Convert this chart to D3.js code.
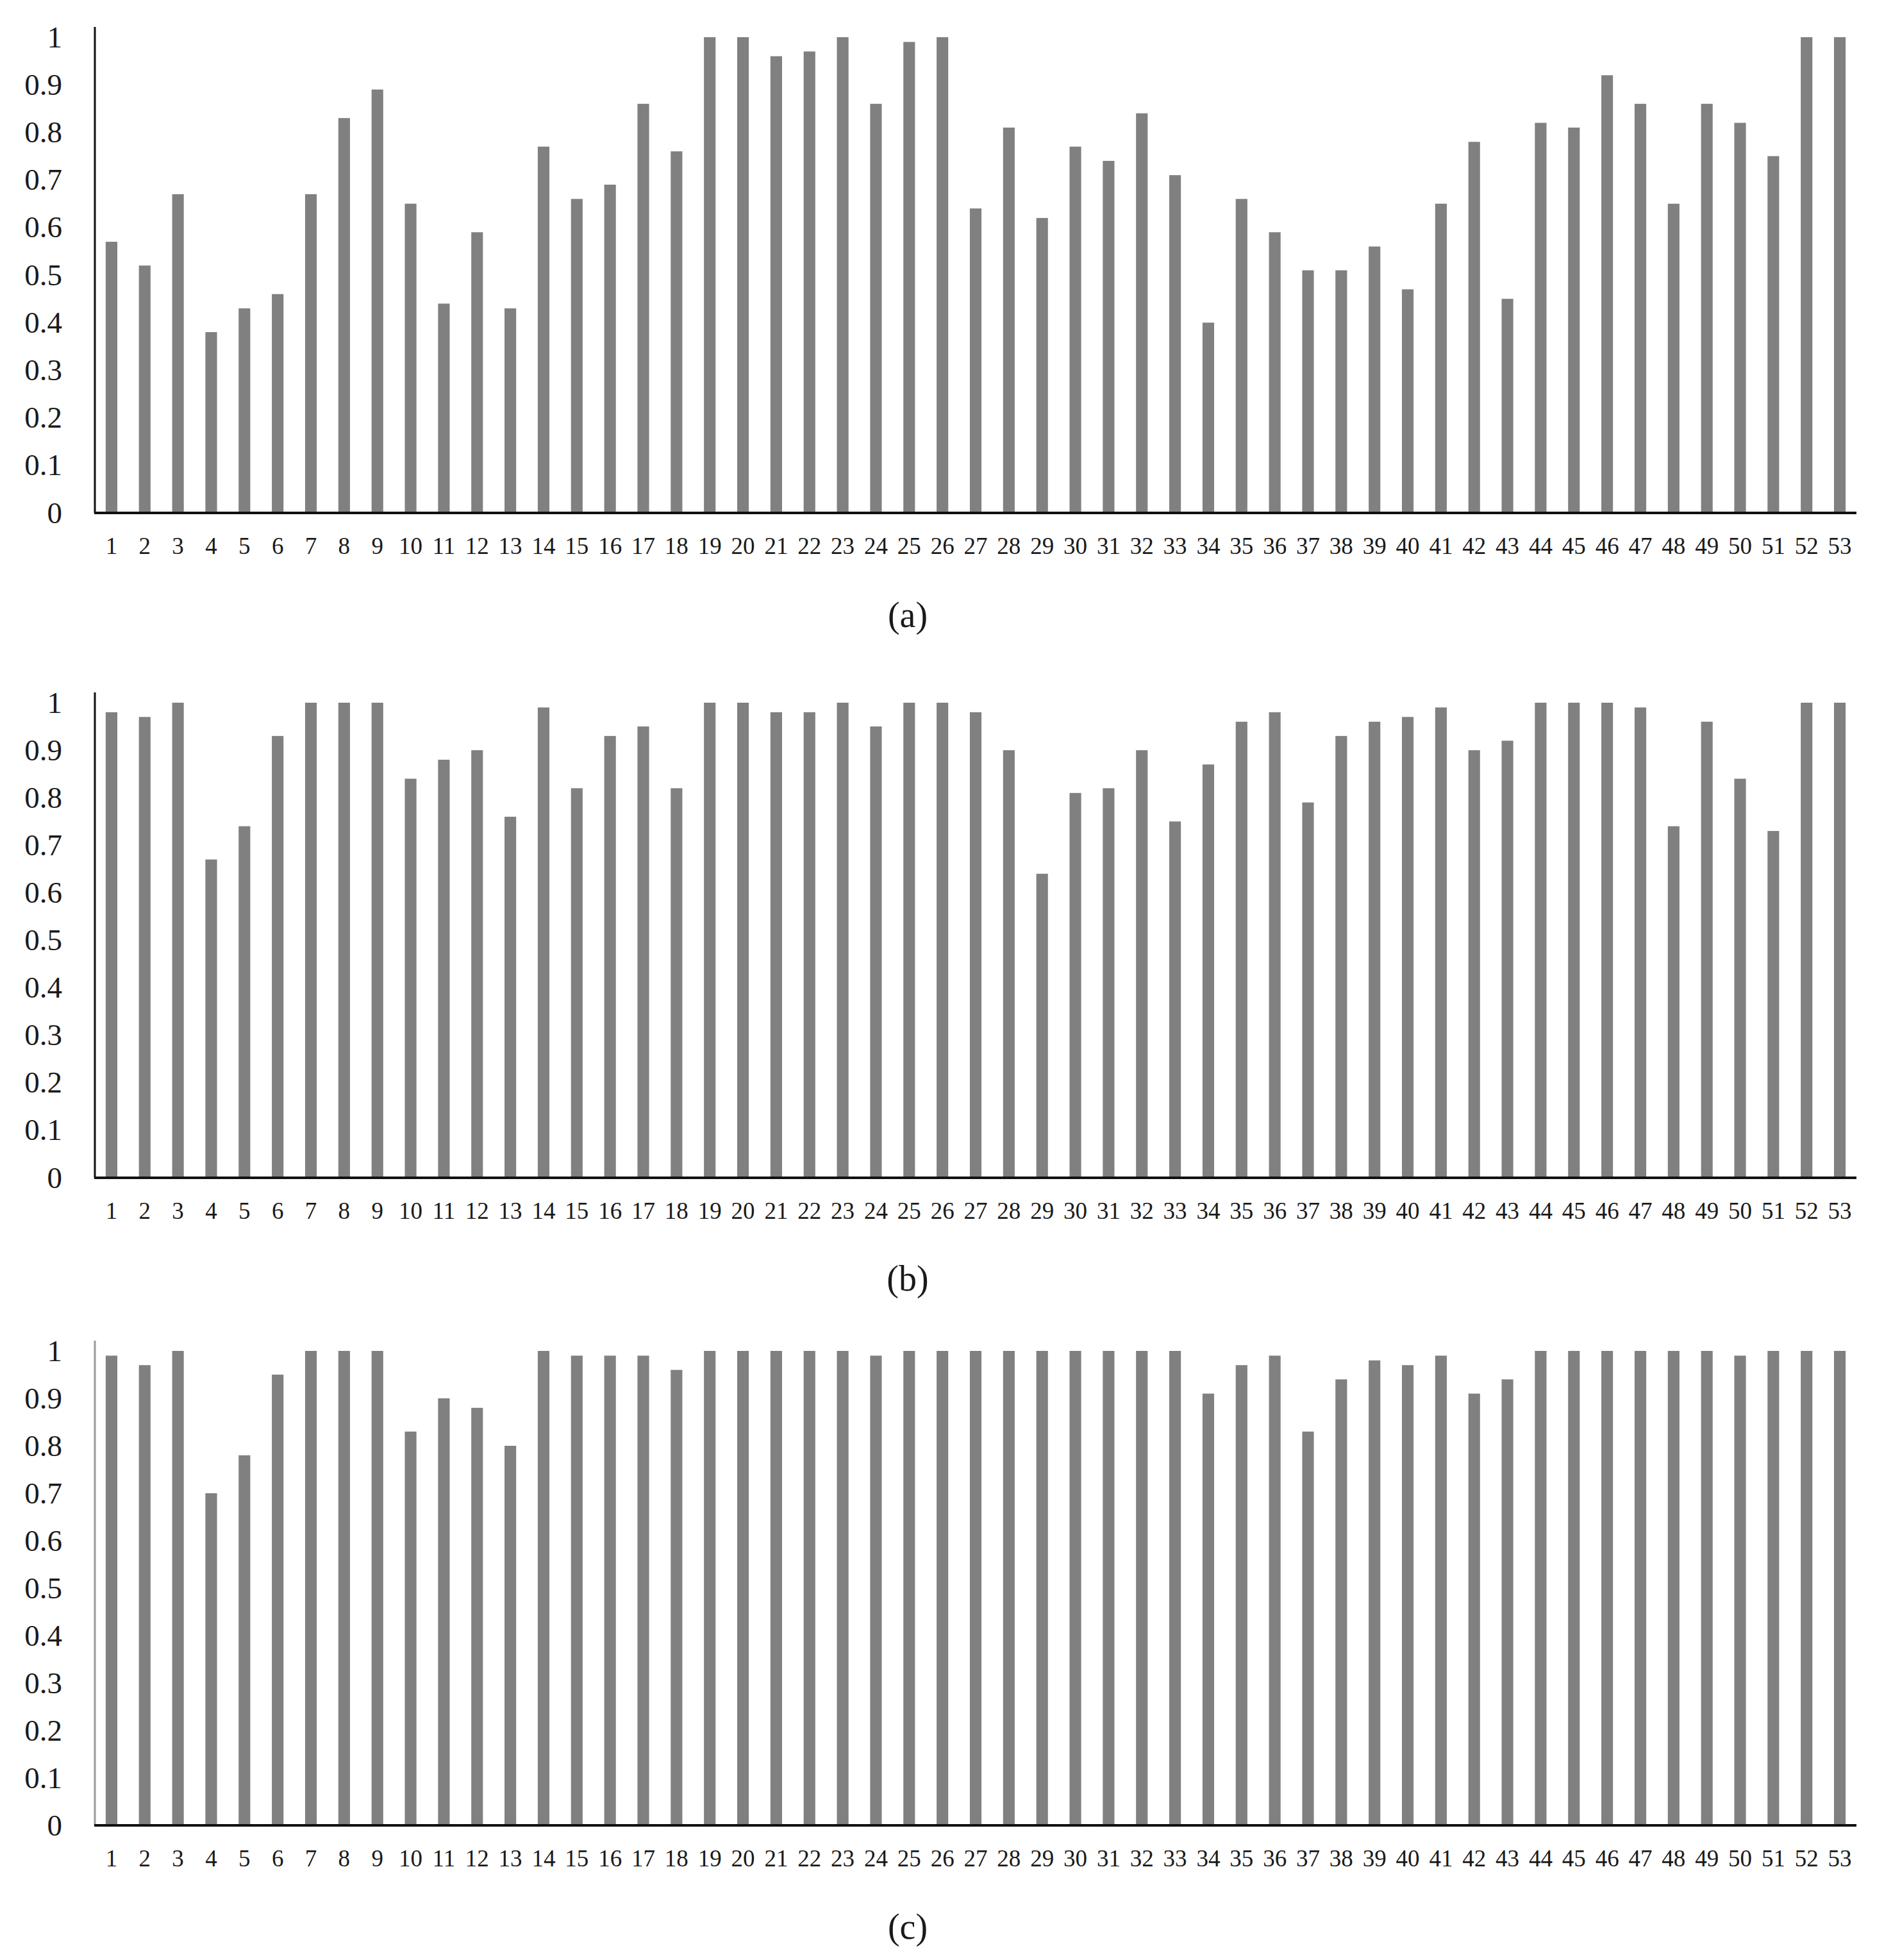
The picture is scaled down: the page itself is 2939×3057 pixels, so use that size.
<!DOCTYPE html>
<html>
<head>
<meta charset="utf-8">
<script src="https://cdn.jsdelivr.net/npm/d3@7"></script>
<style>
  body { margin: 0; background: #fff; }
  text { font-family: "Liberation Serif", "DejaVu Serif", serif; fill: #1a1a1a; }
</style>
</head>
<body>
<div class="chart"></div>
<script>
const weeks = d3.range(1, 54).map(String);
const yTicks = [0, 0.1, 0.2, 0.3, 0.4, 0.5, 0.6, 0.7, 0.8, 0.9, 1];

const seriesA = [0.57, 0.52, 0.67, 0.38, 0.43, 0.46, 0.67, 0.83, 0.89, 0.65,
  0.44, 0.59, 0.43, 0.77, 0.66, 0.69, 0.86, 0.76, 1, 1,
  0.96, 0.97, 1, 0.86, 0.99, 1, 0.64, 0.81, 0.62, 0.77,
  0.74, 0.84, 0.71, 0.40, 0.66, 0.59, 0.51, 0.51, 0.56, 0.47,
  0.65, 0.78, 0.45, 0.82, 0.81, 0.92, 0.86, 0.65, 0.86, 0.82,
  0.75, 1, 1];

const seriesB = [0.98, 0.97, 1, 0.67, 0.74, 0.93, 1, 1, 1, 0.84,
  0.88, 0.90, 0.76, 0.99, 0.82, 0.93, 0.95, 0.82, 1, 1,
  0.98, 0.98, 1, 0.95, 1, 1, 0.98, 0.90, 0.64, 0.81,
  0.82, 0.90, 0.75, 0.87, 0.96, 0.98, 0.79, 0.93, 0.96, 0.97,
  0.99, 0.90, 0.92, 1, 1, 1, 0.99, 0.74, 0.96, 0.84,
  0.73, 1, 1];

const seriesC = [0.99, 0.97, 1, 0.70, 0.78, 0.95, 1, 1, 1, 0.83,
  0.90, 0.88, 0.80, 1, 0.99, 0.99, 0.99, 0.96, 1, 1,
  1, 1, 1, 0.99, 1, 1, 1, 1, 1, 1,
  1, 1, 1, 0.91, 0.97, 0.99, 0.83, 0.94, 0.98, 0.97,
  0.99, 0.91, 0.94, 1, 1, 1, 1, 1, 1, 0.99,
  1, 1, 1];

const captions = ["(a)", "(b)", "(c)"];

const width = 2939, height = 3057;
const left = 148, right = 2896;
const captionX = 1416;

const panels = [
  { data: seriesA, base: 800, top: 58, label: captions[0], capY: 978, yAxisColor: "#111" },
  { data: seriesB, base: 1837, top: 1096, label: captions[1], capY: 2013, yAxisColor: "#111" },
  { data: seriesC, base: 2847, top: 2107, label: captions[2], capY: 3024, yAxisColor: "#9a9a9a" }
];

const svg = d3.select(".chart")
  .append("svg")
  .attr("width", width)
  .attr("height", height);

const x = d3.scaleBand()
  .domain(weeks)
  .range([left, right])
  .paddingInner(0.65)
  .paddingOuter(0.325);

panels.forEach(p => {
  const y = d3.scaleLinear()
    .domain([0, 1])
    .range([p.base, p.top]);

  const g = svg.append("g");

  g.selectAll("rect")
    .data(p.data)
    .enter()
    .append("rect")
    .attr("x", (d, i) => x(weeks[i]))
    .attr("width", x.bandwidth())
    .attr("y", d => y(d))
    .attr("height", d => y(0) - y(d))
    .attr("fill", "#808080");

  // y axis
  const yAxis = g.append("g")
    .attr("transform", `translate(${left}, 0)`)
    .call(d3.axisLeft(y).tickValues(yTicks).tickFormat(d => String(d)).tickSize(0).tickPadding(51));
  yAxis.select(".domain").remove();
  yAxis.selectAll("text").attr("font-size", 47).attr("font-family", null);

  g.append("line")
    .attr("x1", left).attr("x2", left)
    .attr("y1", y(0)).attr("y2", y(1) - 16)
    .attr("stroke", p.yAxisColor)
    .attr("stroke-width", 3);

  // x axis
  const xAxis = g.append("g")
    .attr("transform", `translate(0, ${p.base})`)
    .call(d3.axisBottom(x).tickSize(0).tickPadding(38));
  xAxis.select(".domain").remove();
  xAxis.selectAll("text").attr("font-size", 37).attr("font-family", null);

  g.append("line")
    .attr("x1", left - 1).attr("x2", right)
    .attr("y1", p.base).attr("y2", p.base)
    .attr("stroke", "#111")
    .attr("stroke-width", 4);

  g.append("text")
    .attr("x", captionX)
    .attr("y", p.capY)
    .attr("text-anchor", "middle")
    .attr("font-size", 56)
    .text(p.label);
});
</script>
</body>
</html>
